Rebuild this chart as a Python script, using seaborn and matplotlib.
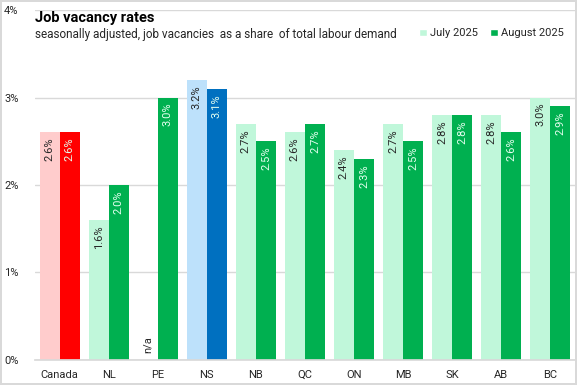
from matplotlib.patches import Patch
import matplotlib.pyplot as plt
import seaborn as sns
import pandas as pd
import numpy as np


# Data
REGIONS = ['Canada', 'NL', 'PE', 'NS', 'NB', 'QC', 'ON', 'MB', 'SK', 'AB', 'BC']
JULY_2025 = [2.6, 1.6, np.nan, 3.2, 2.7, 2.6, 2.4, 2.7, 2.8, 2.8, 3.0]
AUGUST_2025 = [2.6, 2.0, 3.0, 3.1, 2.5, 2.7, 2.3, 2.5, 2.8, 2.6, 2.9]
SERIES = ['July 2025', 'August 2025']
Y_TICKS = [0, 1, 2, 3, 4]

# Config
FONT = 'Roboto'
GRID_COLOR = '#d9d9d9'
TEXT_COLOR = '#262626'
LIGHT = {'default': '#c0f7da', 'Canada': '#ffcccc', 'NS': '#bde1fb'}
DARK = {'default': '#00b050', 'Canada': '#ff0000', 'NS': '#0070c0'}
WIDTH, HEIGHT, DPI = 577, 385, 100


df = pd.DataFrame({
  'region': REGIONS * 2,
  'series': [SERIES[0]] * len(REGIONS) + [SERIES[1]] * len(REGIONS),
  'value': JULY_2025 + AUGUST_2025,
})
plot_df = df.fillna(0)

sns.set_theme(style='white')
plt.rcParams['font.family'] = [FONT, 'DejaVu Sans']

fig = plt.figure(figsize=(WIDTH / DPI, HEIGHT / DPI), dpi=DPI)
fig.patch.set_edgecolor(GRID_COLOR)
fig.patch.set_linewidth(1.5)
ax = fig.add_axes([0.061, 0.065, 0.935, 0.909])

sns.barplot(data=plot_df, x='region', y='value', hue='series', hue_order=SERIES,
            order=REGIONS, width=0.82, gap=0, saturation=1, errorbar=None,
            legend=False, ax=ax)

# recolour bars and add labels
for container, series in zip(ax.containers, SERIES):
  light = series == SERIES[0]
  for bar, region in zip(container, REGIONS):
    key = region if region in LIGHT else 'default'
    bar.set_facecolor(LIGHT[key] if light else DARK[key])
    bar.set_edgecolor('none')
    value = df[(df.region == region) & (df.series == series)].value.iloc[0]
    cx = bar.get_x() + bar.get_width() / 2
    if np.isnan(value):
      ax.text(cx, 0.08, 'n/a', rotation=90, ha='center', va='bottom',
              fontsize=8, color=TEXT_COLOR)
      continue
    ax.text(cx, value - 0.06, f'{value:.1f}%', rotation=90, ha='center', va='top',
            fontsize=8, color=TEXT_COLOR if light else '#e6fff0')

ax.set_ylim(0, 4)
ax.set_xlim(-0.5, len(REGIONS) - 0.5)
ax.set_yticks(Y_TICKS)
ax.set_yticklabels([f'{t}%' for t in Y_TICKS])
ax.yaxis.grid(True, color=GRID_COLOR, linewidth=1)
ax.set_axisbelow(True)
ax.set_xlabel('')
ax.set_ylabel('')
ax.tick_params(axis='both', length=0, labelsize=8, colors=TEXT_COLOR)
ax.tick_params(axis='x', pad=7)
ax.tick_params(axis='y', pad=12)
for s in ['top', 'right', 'left']:
  ax.spines[s].set_visible(False)
ax.spines['bottom'].set_color(GRID_COLOR)

# Title and subtitle
fig.text(0.061, 0.952, 'Job vacancy rates', fontsize=10.5, fontweight='bold',
         color='black', va='center', ha='left')
fig.text(0.061, 0.91, 'seasonally adjusted, job vacancies  as a share  of total labour demand',
         fontsize=8.5, color=TEXT_COLOR, va='center', ha='left')

# Legend
handles = [Patch(facecolor=LIGHT['default'], label=SERIES[0]),
           Patch(facecolor=DARK['default'], label=SERIES[1])]
fig.legend(handles=handles, loc='center right', bbox_to_anchor=(0.995, 0.913),
           ncol=2, frameon=False, fontsize=8, handlelength=0.7, handleheight=0.7,
           handletextpad=0.3, columnspacing=1.1, labelcolor=TEXT_COLOR)

plt.savefig('out.png', dpi=DPI, edgecolor=fig.get_edgecolor())
